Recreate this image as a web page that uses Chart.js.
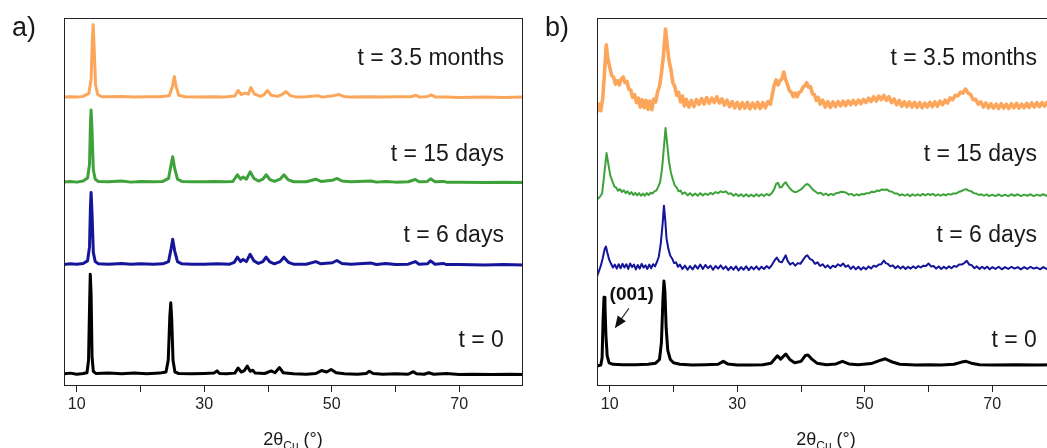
<!DOCTYPE html>
<html>
<head>
<meta charset="utf-8">
<script src="https://cdn.jsdelivr.net/npm/chart.js@4.4.1/dist/chart.umd.min.js"></script>
<style>
  html, body { margin: 0; padding: 0; background: #fff; overflow: hidden; }
  body { width: 1047px; height: 448px; position: relative; font-family: "Liberation Sans", Arial, sans-serif; color: #1a1a1a; }
  canvas { position: absolute; top: 0; }
  #chartA { left: 0; }
  #chartB { left: 530px; }
  .panel { position: absolute; top: 14px; font-size: 27px; line-height: 27px; }
  .xtitle { position: absolute; top: 430px; font-size: 18px; line-height: 18px; transform: translateX(-50%); white-space: nowrap; }
  .xtitle sub { font-size: 12px; line-height: 0; }
</style>
</head>
<body>
<canvas id="chartA" width="530" height="448"></canvas>
<canvas id="chartB" width="530" height="448"></canvas>
<div class="panel" style="left:12px">a)</div>
<div class="panel" style="left:545px">b)</div>
<div class="xtitle" style="left:293px">2θ<sub>Cu</sub> (°)</div>
<div class="xtitle" style="left:826px">2θ<sub>Cu</sub> (°)</div>
<script>
// series labels, bottom to top
const seriesNames = ['t = 0', 't = 6 days', 't = 15 days', 't = 3.5 months'];
const seriesColors = ['#000000', '#15159a', '#3ea23a', '#fba65a'];
const labelY = [12.2, 40.8, 62.8, 88.9];
const labelX = 77.0;

const xTicks = [10, 20, 30, 40, 50, 60, 70];
const xTickLabels = [10, 30, 50, 70];

// vertical offsets of the stacked patterns
const offsetsA = [3.0, 32.8, 55.2, 78.3];
const offsetsB = [5.7, 32.2, 51.9, 76.4];

// panel a) [2theta, intensity]
const aT0 = [[8,0.3],[9,0.5],[10,0.2],[11,0.4],[11.6,0.6],[11.85,4],[12.0,18],[12.12,27.4],[12.25,22],[12.4,5],[12.6,1],[13,0.4],[15,0.5],[17,0.3],[19,0.5],[21,0.3],[23,0.5],[24.0,0.8],[24.35,4],[24.6,16],[24.75,19.6],[24.9,15],[25.1,4],[25.4,0.8],[26,0.4],[28,0.3],[30,0.4],[31.5,0.5],[32.0,1.1],[32.4,0.4],[33.5,0.3],[34.8,0.5],[35.3,1.9],[35.8,0.8],[36.3,1.2],[36.75,2.4],[37.2,1.0],[37.6,1.3],[38,0.5],[39.5,0.4],[40.5,1.1],[41.1,0.6],[41.8,2.0],[42.4,0.6],[44,0.3],[46,0.2],[47.5,0.4],[48.4,1.2],[49.2,0.8],[49.9,1.5],[50.7,0.6],[52,0.3],[54,0.2],[55.4,0.4],[55.9,1.0],[56.5,0.4],[58,0.2],[60,0.3],[62,0.2],[62.8,0.9],[63.3,0.3],[64.5,0.2],[65.2,0.6],[66,0.2],[68,0.4],[70,0.1],[72,0.2],[75,0.1],[78,0.2],[80,0.1]];
const aT6 = [[8,0.2],[9,0.4],[10,0.3],[11,0.5],[11.7,1.2],[12.0,5],[12.15,16],[12.25,19.8],[12.4,14],[12.6,3.5],[12.9,1.0],[13.4,0.4],[15,0.3],[17,0.5],[18.5,0.3],[20,0.4],[22,0.3],[23.5,0.4],[24.4,1.0],[24.8,4.5],[25.05,7.1],[25.35,4],[25.8,1.0],[26.5,0.4],[28,0.3],[30,0.3],[32,0.4],[34,0.3],[34.7,0.8],[35.2,2.2],[35.7,1.0],[36.1,1.6],[36.6,1.0],[37.2,3.0],[37.8,1.2],[38.5,0.5],[39.2,1.0],[39.7,2.2],[40.3,0.9],[41,0.4],[41.9,1.0],[42.5,2.2],[43.2,0.8],[44,0.3],[46,0.3],[47.5,1.0],[48.3,0.4],[50.1,0.7],[50.8,1.3],[51.6,0.5],[53,0.3],[56.2,0.6],[57,0.2],[58.5,0.5],[60,0.2],[62,0.3],[63.1,1.0],[63.7,0.3],[65,0.4],[65.5,1.2],[66.2,0.3],[67.5,0.5],[68,0.2],[70,0.2],[74,0.1],[77,0.2],[80,0.1]];
const aT15 = [[8,0.2],[9,0.4],[10,0.2],[11,0.5],[11.7,1.3],[12.0,5],[12.15,16],[12.25,19.8],[12.4,14],[12.6,3.5],[12.9,1.0],[13.4,0.4],[15,0.3],[17,0.5],[18.5,0.2],[20,0.4],[22,0.3],[23.5,0.4],[24.4,1.2],[24.8,5],[25.05,7.1],[25.35,4],[25.8,1.0],[26.5,0.4],[28,0.3],[30,0.3],[31.5,0.4],[33,0.3],[34.5,0.4],[35.2,2.2],[35.7,1.0],[36.1,1.6],[36.6,1.0],[37.2,3.0],[37.8,1.2],[38.5,0.5],[39.2,1.0],[39.7,2.2],[40.3,0.9],[41,0.4],[41.9,1.0],[42.5,2.2],[43.2,0.8],[44,0.3],[46,0.3],[47.5,1.0],[48.3,0.4],[50.1,0.7],[50.8,1.2],[51.6,0.5],[53,0.3],[56.2,0.5],[57,0.2],[58.5,0.4],[60,0.2],[62,0.3],[63.1,0.9],[63.7,0.3],[65,0.4],[65.5,1.1],[66.2,0.3],[67.5,0.4],[68,0.2],[70,0.2],[74,0.1],[77,0.2],[80,0.1]];
const aT35 = [[8,0.2],[9,0.3],[10,0.2],[11,0.4],[11.9,1.2],[12.25,5],[12.45,16],[12.58,19.9],[12.72,14],[12.95,3.5],[13.3,0.9],[13.9,0.3],[15,0.3],[17,0.4],[19,0.2],[21,0.3],[23,0.3],[24.5,0.6],[25.0,3],[25.3,5.8],[25.6,3],[26.0,0.7],[27,0.3],[29,0.2],[31,0.3],[33,0.2],[34.8,0.5],[35.3,2.0],[35.8,0.9],[36.4,1.3],[36.9,1.0],[37.3,2.8],[37.9,1.0],[38.8,0.4],[39.4,0.9],[39.9,2.0],[40.5,0.7],[41.5,0.4],[42.2,0.9],[42.8,1.7],[43.5,0.6],[44.5,0.2],[46,0.3],[47.8,0.6],[48.5,0.2],[50.3,0.6],[51.1,0.9],[51.9,0.4],[53,0.2],[56,0.3],[58,0.2],[60,0.3],[62.5,0.3],[63.2,0.7],[63.8,0.2],[65.1,0.4],[65.6,0.8],[66.3,0.2],[68,0.2],[70,0.1],[74,0.2],[77,0.1],[80,0.2]];

// panel b) [2theta, intensity]
const bT0 = [[8,-0.3],[8.6,0],[8.8,2],[8.95,12],[9.1,18.4],[9.25,16],[9.4,8],[9.6,2.5],[9.9,0.6],[10.5,0.2],[12,0.1],[14,0.1],[16,0.2],[17.2,0.5],[17.8,1.5],[18.1,6],[18.35,18],[18.5,22.8],[18.65,20],[18.85,10],[19.1,4],[19.5,1.5],[20,0.6],[21,0.2],[23,0],[25,0.1],[27,0.2],[27.8,1.0],[28.5,0.3],[30,0],[32,0],[34,0.1],[35.3,0.5],[35.8,1.5],[36.3,2.5],[36.8,1.6],[37.6,3.0],[38.3,1.4],[39,0.6],[40,1.0],[40.7,2.6],[41.1,2.7],[41.7,1.6],[42.5,0.5],[44,0.1],[45.5,0.3],[46.5,1.0],[47.5,0.3],[49,0.1],[51,0.4],[52.3,1.2],[53.2,1.7],[54.2,0.9],[55.5,0.2],[58,0],[60,0.1],[62,0],[64,0.2],[65.2,0.8],[65.9,1.0],[66.7,0.5],[68,0.1],[70,0],[74,0.1],[77,0],[80,0.1]];
const bT6 = [[8,-2.4],[8.3,-1.0],[8.6,0.5],[8.9,2.5],[9.2,5.0],[9.4,5.7],[9.6,4.2],[9.9,2.2],[10.2,1.0],[10.5,0.0],[10.8,0.8],[11.1,-0.3],[11.4,0.9],[11.7,-0.2],[12,1.0],[12.3,0.0],[12.6,0.9],[12.9,-0.4],[13.2,1.1],[13.5,0.1],[13.8,0.8],[14.1,-0.5],[14.4,0.7],[14.7,-0.3],[15,1.0],[15.3,0],[15.6,0.6],[15.9,-0.4],[16.2,0.8],[16.5,-0.2],[16.8,0.9],[17.1,0.3],[17.4,1.5],[17.7,3.0],[18.0,6.5],[18.3,12],[18.5,16.8],[18.7,13],[18.9,8],[19.2,5],[19.5,3.2],[19.8,2.4],[20.1,1.2],[20.4,1.4],[20.7,0.2],[21,0.8],[21.4,-0.4],[21.8,0.5],[22.2,-0.6],[22.6,0.4],[23,-0.5],[23.4,0.6],[23.8,-0.3],[24.2,0.8],[24.6,-0.4],[25,0.7],[25.4,-0.2],[25.8,0.5],[26.2,-0.6],[26.6,0.4],[27,-0.3],[27.4,0.6],[27.8,-0.4],[28.2,0.3],[28.6,-0.7],[29,0.2],[29.4,-0.6],[29.8,0.3],[30.2,-0.8],[30.6,0.1],[31,-0.6],[31.4,0.3],[31.8,-0.7],[32.2,0.2],[32.6,-0.5],[33,0.3],[33.4,-0.6],[33.8,0.2],[34.2,-0.4],[34.6,0.4],[35,-0.2],[35.4,0.6],[35.8,1.8],[36.2,2.7],[36.6,1.6],[37.0,1.4],[37.3,2.4],[37.6,3.3],[37.9,1.8],[38.3,0.8],[38.7,1.3],[39.1,0.5],[39.5,1.2],[39.9,1.0],[40.3,2.0],[40.7,3.0],[41.0,3.3],[41.4,2.3],[41.8,2.0],[42.2,1.0],[42.6,1.4],[43,0.4],[43.4,0.9],[43.8,0],[44.2,0.6],[44.6,-0.2],[45,0.5],[45.4,0.1],[45.8,0.9],[46.2,0.4],[46.6,1.1],[47,0.2],[47.4,0.6],[47.8,-0.4],[48.2,0.3],[48.6,-0.5],[49,0.2],[49.4,-0.6],[49.8,0.1],[50.2,-0.5],[50.6,0.3],[51,-0.3],[51.4,0.5],[51.8,0.2],[52.2,0.8],[52.6,0.9],[53,1.9],[53.3,1.2],[53.6,1.0],[54,0.3],[54.4,0.6],[54.8,-0.2],[55.2,0.4],[55.6,-0.3],[56,0.3],[56.4,-0.4],[56.8,0.2],[57.2,-0.3],[57.6,0.3],[58,-0.2],[58.4,0.4],[58.8,0],[59.2,0.5],[59.6,0.4],[60,1.1],[60.4,0.3],[60.8,0.4],[61.2,-0.3],[61.6,0.3],[62,-0.4],[62.4,0.2],[62.8,-0.3],[63.2,0.3],[63.6,-0.2],[64,0.4],[64.4,0.2],[64.8,0.8],[65.2,0.8],[65.6,1.2],[66,1.8],[66.4,0.8],[66.8,0.6],[67.2,-0.2],[67.6,0.3],[68,-0.4],[68.4,0.2],[68.8,-0.3],[69.2,0.2],[69.6,-0.5],[70,0.1],[70.5,-0.4],[71,0.2],[71.5,-0.5],[72,0.1],[72.5,-0.4],[73,0.2],[73.5,-0.3],[74,0.1],[74.5,-0.5],[75,0.1],[75.5,-0.4],[76,0.2],[76.5,-0.3],[77,0],[77.5,-0.5],[78,0.1],[78.5,-0.4],[79,0.1],[79.5,-0.3],[80,0]];
const bT15 = [[8,-1.2],[8.4,-0.6],[8.8,0.4],[9.1,5],[9.5,11.4],[9.8,8.2],[10.1,5.2],[10.4,3.8],[10.7,2.4],[11,2.0],[11.3,1.2],[11.6,1.6],[11.9,0.8],[12.2,1.3],[12.5,0.5],[12.8,1.0],[13.1,0.2],[13.4,0.8],[13.7,0],[14,0.6],[14.3,-0.1],[14.6,0.5],[14.9,-0.2],[15.2,0.4],[15.5,-0.2],[15.8,0.5],[16.1,0],[16.4,0.6],[16.7,0.4],[17,1.0],[17.3,1.2],[17.6,2.2],[17.9,3.5],[18.2,7],[18.5,13],[18.75,18.2],[19.0,14],[19.3,9],[19.6,6],[19.9,4.2],[20.2,2.6],[20.5,2.0],[20.8,1.0],[21.1,1.2],[21.4,0.3],[21.8,0.7],[22.2,-0.1],[22.6,0.5],[23,-0.2],[23.4,0.4],[23.8,-0.2],[24.2,0.5],[24.6,-0.1],[25,0.4],[25.4,0],[25.8,0.6],[26.2,0.2],[26.6,0.8],[27,0.5],[27.4,1.0],[27.8,0.7],[28.2,1.0],[28.6,0.3],[29,0.5],[29.4,-0.2],[29.8,0.3],[30.2,-0.3],[30.6,0.2],[31,-0.4],[31.4,0.2],[31.8,-0.4],[32.2,0.1],[32.6,-0.4],[33,0.2],[33.4,-0.3],[33.8,0.2],[34.2,-0.3],[34.6,0.3],[35,-0.1],[35.4,0.5],[35.8,1.6],[36.1,3.0],[36.4,3.3],[36.7,2.0],[37.0,2.2],[37.3,3.0],[37.6,3.5],[37.9,2.6],[38.2,1.9],[38.6,1.2],[39,0.8],[39.4,0.9],[39.8,1.3],[40.2,1.8],[40.6,2.6],[40.9,3.0],[41.2,2.8],[41.5,2.2],[41.9,1.4],[42.3,0.9],[42.7,0.4],[43.1,0.6],[43.5,0],[43.9,0.4],[44.3,-0.1],[44.7,0.3],[45.1,0],[45.5,0.5],[45.9,0.6],[46.3,0.9],[46.7,0.8],[47.1,0.6],[47.5,0.1],[47.9,0.3],[48.3,-0.2],[48.7,0.2],[49.1,-0.1],[49.5,0.3],[49.9,0.2],[50.3,0.5],[50.7,0.5],[51.1,0.9],[51.5,0.8],[51.9,1.2],[52.3,1.1],[52.7,1.5],[53.1,1.4],[53.5,1.5],[53.9,1.0],[54.3,0.9],[54.7,0.4],[55.1,0.4],[55.5,-0.1],[55.9,0.2],[56.3,-0.2],[56.7,0.2],[57.1,-0.3],[57.5,0.2],[57.9,-0.2],[58.3,0.2],[58.7,-0.2],[59.1,0.3],[59.5,-0.1],[59.9,0.3],[60.3,0],[60.7,0.3],[61.1,-0.2],[61.5,0.2],[61.9,-0.2],[62.3,0.2],[62.7,-0.1],[63.1,0.3],[63.5,0.1],[63.9,0.4],[64.3,0.4],[64.7,0.8],[65.1,1.0],[65.5,1.4],[65.9,1.6],[66.3,1.2],[66.7,1.0],[67.1,0.5],[67.5,0.4],[67.9,0],[68.3,0.2],[68.7,-0.2],[69.1,0.2],[69.5,-0.3],[70,0.1],[70.5,-0.3],[71,0.2],[71.5,-0.3],[72,0.1],[72.5,-0.3],[73,0.2],[73.5,-0.2],[74,0.2],[74.5,-0.3],[75,0.1],[75.5,-0.2],[76,0.2],[76.5,-0.3],[77,0.1],[77.5,-0.2],[78,0.2],[78.5,-0.2],[79,0.1],[79.5,-0.3],[80,0]];
const bT35 = [[8,-2.0],[8.3,0.2],[8.6,-1.6],[8.9,1.8],[9.15,8],[9.45,16.3],[9.7,12.5],[10,10.2],[10.3,8],[10.6,7.5],[10.9,5.6],[11.2,6.6],[11.5,5.4],[11.8,7.0],[12.1,7.6],[12.4,6.0],[12.7,6.4],[13,4.2],[13.3,4.0],[13.6,2.0],[13.9,2.8],[14.2,0.6],[14.5,1.8],[14.8,-0.6],[15.1,1.4],[15.4,-0.8],[15.7,1.2],[16,-1.2],[16.3,1.0],[16.6,-1.3],[16.9,1.6],[17.2,0.8],[17.5,3.5],[17.8,5.0],[18.1,8.5],[18.4,13],[18.75,20.6],[19.0,16.5],[19.3,12],[19.6,9.5],[19.9,6.0],[20.2,5.0],[20.5,2.6],[20.8,3.4],[21.1,0.8],[21.4,2.4],[21.7,-0.3],[22.0,1.5],[22.4,-0.6],[22.8,1.2],[23.2,-0.5],[23.6,1.4],[24,0.1],[24.4,1.7],[24.8,0.2],[25.2,2.0],[25.6,0.4],[26,1.8],[26.4,0.6],[26.8,2.2],[27.2,0.5],[27.6,1.6],[28,-0.1],[28.4,1.3],[28.8,-0.5],[29.2,0.9],[29.6,-0.8],[30,0.7],[30.4,-1.0],[30.8,0.6],[31.2,-0.9],[31.6,0.7],[32,-1.1],[32.4,0.5],[32.8,-0.9],[33.2,0.7],[33.6,-1.0],[34,0.6],[34.4,-0.8],[34.8,0.9],[35.2,0.2],[35.5,2.8],[35.8,5.4],[36.1,6.8],[36.4,5.4],[36.7,6.6],[37.0,7.0],[37.3,8.9],[37.6,6.8],[37.9,5.4],[38.2,3.8],[38.5,3.4],[38.8,2.2],[39.1,3.2],[39.4,2.2],[39.7,3.4],[40.0,3.6],[40.3,4.8],[40.6,5.2],[40.9,6.0],[41.2,4.8],[41.5,4.9],[41.8,3.0],[42.1,2.8],[42.4,1.2],[42.7,2.0],[43.0,0.2],[43.4,1.3],[43.8,-0.6],[44.2,0.9],[44.6,-0.7],[45,0.8],[45.4,-0.5],[45.8,0.9],[46.2,-0.3],[46.6,1.0],[47,-0.2],[47.4,1.1],[47.8,0],[48.2,1.2],[48.6,0.1],[49,1.3],[49.4,0.3],[49.8,1.5],[50.2,0.6],[50.6,1.8],[51,0.9],[51.4,2.2],[51.8,1.0],[52.2,2.4],[52.6,1.4],[53,2.6],[53.4,1.2],[53.8,2.2],[54.2,0.6],[54.6,1.6],[55,0],[55.4,1.2],[55.8,-0.4],[56.2,0.9],[56.6,-0.5],[57,0.8],[57.4,-0.6],[57.8,0.7],[58.2,-0.7],[58.6,0.6],[59,-0.8],[59.4,0.5],[59.8,-0.6],[60.2,0.7],[60.6,-0.5],[61,0.8],[61.4,-0.4],[61.8,1.0],[62.2,0],[62.6,1.3],[63,0.5],[63.4,1.9],[63.8,1.4],[64.2,2.6],[64.6,2.4],[65,3.4],[65.4,3.2],[65.8,4.3],[66.2,3.2],[66.6,2.8],[67,1.4],[67.4,1.5],[67.8,0.2],[68.2,0.8],[68.6,-0.6],[69,0.5],[69.4,-0.8],[69.8,0.3],[70.2,-0.9],[70.6,0.2],[71,-1.0],[71.4,0.3],[71.8,-0.9],[72.2,0.2],[72.6,-1.0],[73,0.3],[73.4,-0.8],[73.8,0.4],[74.2,-0.9],[74.6,0.2],[75,-0.8],[75.4,0.4],[75.8,-0.7],[76.2,0.5],[76.6,-0.6],[77,0.6],[77.4,-0.5],[77.8,0.6],[78.2,-0.4],[78.6,0.7],[79,-0.3],[79.4,0.8],[79.8,-0.2]];

// (001) note in panel b, in data units
const note001 = { text: '(001)', x: 13.45, y: 24.7, tailX: 13.0, tailY: 21.1, tipX: 10.8, tipY: 15.7 };

const FONT = '"Liberation Sans", Arial, sans-serif';

const framePlugin = {
    id: 'frameAndLabels',
    afterDatasetsDraw(chart) {
        const { ctx, chartArea: ca, scales } = chart;
        ctx.save();
        ctx.strokeStyle = '#222';
        ctx.lineWidth = 1;
        ctx.strokeRect(ca.left + 0.5, ca.top + 0.5, ca.width - 1, ca.height - 1);
        ctx.fillStyle = '#1a1a1a';
        ctx.font = '23px ' + FONT;
        ctx.textAlign = 'right';
        ctx.textBaseline = 'middle';
        seriesNames.forEach((name, i) => {
            ctx.fillText(name, scales.x.getPixelForValue(labelX), scales.y.getPixelForValue(labelY[i]));
        });
        if (chart.options.plugins.frameAndLabels.note) {
            const n = note001;
            const px = v => scales.x.getPixelForValue(v);
            const py = v => scales.y.getPixelForValue(v);
            ctx.font = 'bold 19px ' + FONT;
            ctx.textAlign = 'center';
            ctx.fillStyle = '#111';
            ctx.fillText(n.text, px(n.x), py(n.y));
            const x0 = px(n.tailX), y0 = py(n.tailY), x1 = px(n.tipX), y1 = py(n.tipY);
            const ang = Math.atan2(y1 - y0, x1 - x0);
            ctx.strokeStyle = '#333';
            ctx.lineWidth = 1.2;
            ctx.beginPath();
            ctx.moveTo(x0, y0);
            ctx.lineTo(x1 - 8 * Math.cos(ang), y1 - 8 * Math.sin(ang));
            ctx.stroke();
            ctx.beginPath();
            ctx.moveTo(x1, y1);
            ctx.lineTo(x1 - 12 * Math.cos(ang) + 5 * Math.sin(ang), y1 - 12 * Math.sin(ang) - 5 * Math.cos(ang));
            ctx.lineTo(x1 - 12 * Math.cos(ang) - 5 * Math.sin(ang), y1 - 12 * Math.sin(ang) + 5 * Math.cos(ang));
            ctx.closePath();
            ctx.fillStyle = '#111';
            ctx.fill();
        }
        ctx.restore();
    }
};

function makeChart(canvasId, series, offsets, widths, padLeft, padRight, withNote) {
    const datasets = series.map((pts, i) => ({
        label: seriesNames[i],
        data: pts.map(p => ({ x: p[0], y: p[1] + offsets[i] })),
        borderColor: seriesColors[i],
        borderWidth: widths[i],
        borderJoinStyle: 'round',
        pointRadius: 0,
        tension: 0,
        fill: false
    }));
    return new Chart(document.getElementById(canvasId), {
        type: 'line',
        data: { datasets: datasets },
        options: {
            responsive: false,
            animation: false,
            layout: { padding: { left: padLeft, right: padRight, top: 18, bottom: 32 } },
            plugins: {
                legend: { display: false },
                tooltip: { enabled: false },
                frameAndLabels: { note: withNote }
            },
            scales: {
                x: {
                    type: 'linear',
                    min: 8,
                    max: 80,
                    afterBuildTicks: s => { s.ticks = xTicks.map(v => ({ value: v })); },
                    afterFit: s => { s.height = 30; },
                    border: { display: false },
                    grid: { drawOnChartArea: false, drawTicks: true, tickLength: 6, color: '#222' },
                    ticks: {
                        autoSkip: false,
                        maxRotation: 0,
                        padding: 3,
                        color: '#222',
                        font: { family: FONT, size: 16 },
                        callback: v => xTickLabels.includes(v) ? String(v) : ''
                    }
                },
                y: { display: false, min: 0, max: 100 }
            }
        },
        plugins: [framePlugin]
    });
}

makeChart('chartA', [aT0, aT6, aT15, aT35], offsetsA, [3, 3, 3, 3], 64, 7, false);
makeChart('chartB', [bT0, bT6, bT15, bT35], offsetsB, [3, 2, 2, 3.6], 67, 4, true);
</script>
</body>
</html>
